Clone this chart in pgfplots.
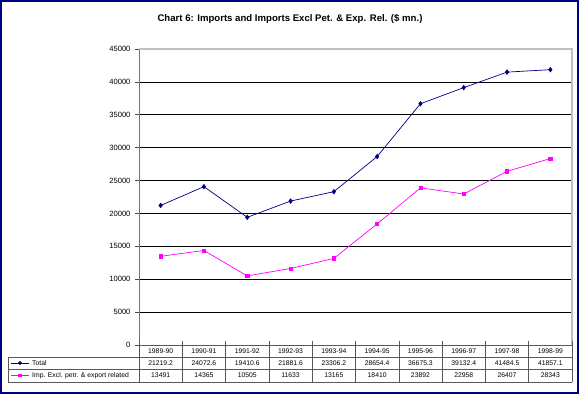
\documentclass[border=0pt]{standalone}
\usepackage{pgfplots}
\pgfplotsset{compat=1.18}
\usetikzlibrary{shapes.geometric}
\usepackage{fontspec}
\setmainfont{Liberation Sans}
\definecolor{navy}{RGB}{0,0,128}
\definecolor{mag}{RGB}{255,0,255}
\begin{document}
\begin{tikzpicture}[x=1pt,y=1pt]
\useasboundingbox (0,0) rectangle (579,394);
\fill[white] (0,0) rectangle (579,394);
\draw[navy, line width=2pt] (1,1) rectangle (578,393);
\node[font=\bfseries\fontsize{9.6}{11}\selectfont] at (290,375) {Chart 6: Imports and Imports Excl Pet. \& Exp. Rel. (\$ mn.)};
\begin{axis}[at={(139pt,49pt)}, anchor=south west, scale only axis,
  width=433pt, height=296pt,
  xmin=-0.5, xmax=9.5, ymin=0, ymax=45000,
  ytick={0,5000,...,45000}, xtick=\empty,
  scaled y ticks=false,
  yticklabel style={/pgf/number format/fixed, /pgf/number format/1000 sep={}, font=\fontsize{7.6}{9}\selectfont, xshift=-1pt},
  ymajorgrids, grid style={black, line width=0.6pt},
  axis x line*=bottom, axis y line*=left,
  axis line style={black!55, line width=0.7pt},
  ytick style={black!70, line width=0.6pt}, major tick length=4pt,
  tick align=outside,
  /pgf/number format/assume math mode=true,
  clip=false]
\addplot[navy, line width=0.7pt, mark=diamond*, mark size=2.2pt, mark options={fill=navy}] coordinates {
(0,21219.2) (1,24072.6) (2,19410.6) (3,21881.6) (4,23306.2) (5,28654.4) (6,36675.3) (7,39132.4) (8,41484.5) (9,41857.1)};
\addplot[mag, line width=0.7pt, mark=square*, mark size=1.6pt, mark options={fill=mag}] coordinates {
(0,13491) (1,14365) (2,10505) (3,11633) (4,13165) (5,18410) (6,23892) (7,22958) (8,26407) (9,28343)};
\end{axis}
% plot area top and right border
\draw[black!25, line width=1.2pt] (139,345) -- (572,345) -- (572,49);
% data table
\begin{scope}[black!65, line width=0.5pt]
\draw (139,49) -- (572,49);
\draw (8,37) -- (572,37);
\draw (8,25) -- (572,25);
\draw (8,12) -- (572,12);
\draw (8,12) -- (8,37);
\foreach \k in {0,...,10} { \draw (139+43.3*\k,12) -- (139+43.3*\k,53); }
\end{scope}
\def\fs{\fontsize{6.8}{8}\selectfont}
\foreach \lab [count=\i from 0] in {1989-90,1990-91,1991-92,1992-93,1993-94,1994-95,1995-96,1996-97,1997-98,1998-99}
  { \node[font=\fs] at (160.65+43.3*\i,43) {\lab}; }
\foreach \v [count=\i from 0] in {21219.2,24072.6,19410.6,21881.6,23306.2,28654.4,36675.3,39132.4,41484.5,41857.1}
  { \node[font=\fs] at (160.65+43.3*\i,31) {\v}; }
\foreach \v [count=\i from 0] in {13491,14365,10505,11633,13165,18410,23892,22958,26407,28343}
  { \node[font=\fs] at (160.65+43.3*\i,18.5) {\v}; }
% legend keys
\draw[navy, line width=0.7pt] (11,31) -- (29,31);
\node[navy, fill=navy, diamond, inner sep=0pt, minimum size=4.4pt] at (20,31) {};
\node[font=\fs, anchor=west, inner sep=0pt] at (32,31) {Total};
\draw[mag, line width=0.7pt] (11,18.5) -- (29,18.5);
\node[fill=mag, inner sep=0pt, minimum size=3.2pt] at (20,18.5) {};
\begin{scope}
\clip (8,12) rectangle (139,25);
\node[font=\fs, anchor=west, inner sep=0pt] at (32,18.5) {Imp. Excl. petr. \& export related};
\end{scope}
\end{tikzpicture}
\end{document}
